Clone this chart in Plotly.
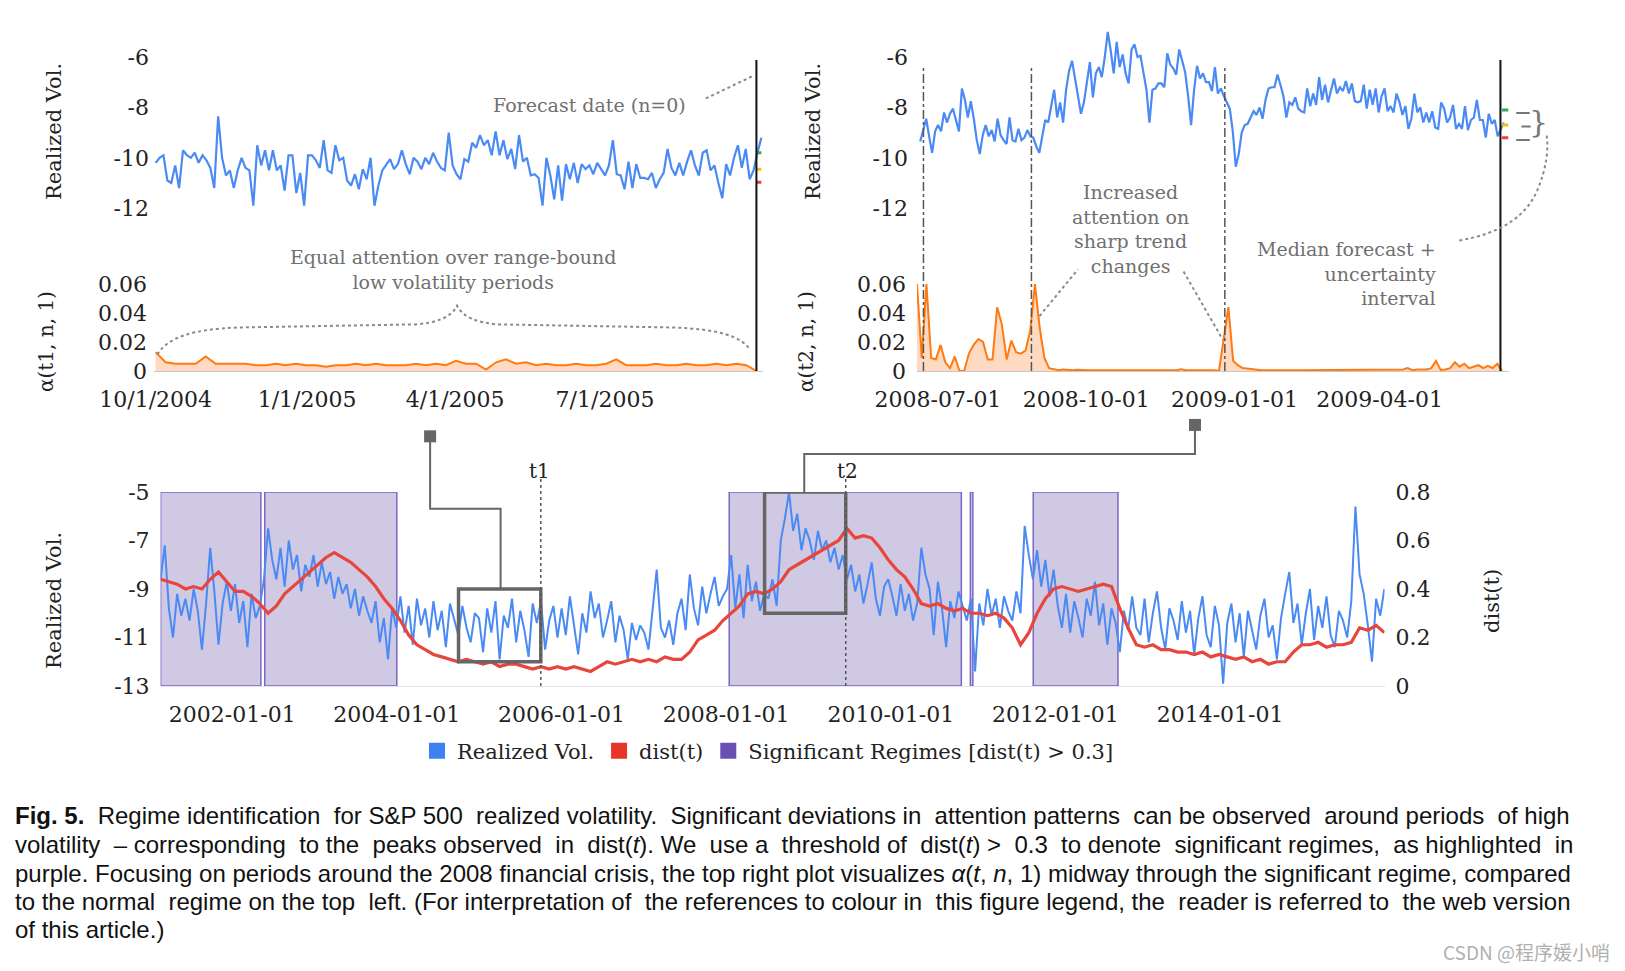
import pandas as pd
import plotly.graph_objects as go

W, H = 1625, 971
OFF = 8  # page body margin compensation
BLUE = "#4a8af4"
RED = "#e8453c"
ORANGE = "#ff7a10"
ORANGE_FILL = "rgba(255,150,80,0.35)"
PURPLE_FILL = "#d0c9e4"
PURPLE_EDGE = "#7a66c8"
GRAYTXT = "#707070"
SERIF = "DejaVu Serif"
SANS = "Liberation Sans"


def fx(p):
    return (p - OFF) / W


def fy(p):
    return 1 - (p - OFF) / H


# ---------------- data: top-left panel (normal regime, t1) ----------------
tl_start, tl_end = "2004-10-01", "2005-10-04"
tl_forecast = "2005-10-01"
tl_vol = [-10.2, -10.0, -9.9, -10.9, -11.0, -10.3, -11.2, -9.7, -9.9, -10.0, -9.8, -10.2, -9.9, -10.1, -10.4,
          -11.2, -8.35, -10.0, -10.7, -10.5, -11.2, -10.5, -10.0, -10.4, -10.5, -11.9, -9.5, -10.3, -9.7, -10.5,
          -9.7, -10.5, -10.3, -11.3, -9.9, -9.9, -11.4, -10.6, -11.9, -9.9, -9.9, -10.1, -10.4, -9.3, -10.5,
          -10.6, -9.5, -10.1, -10.0, -10.9, -11.1, -10.65, -11.25, -10.45, -10.85, -10.0, -11.9, -11.1, -10.5,
          -10.25, -10.05, -10.45, -10.25, -9.7, -10.25, -10.65, -10.0, -10.15, -10.45, -10.0, -10.25, -9.8,
          -10.15, -10.4, -10.5, -9.0, -10.3, -10.65, -10.85, -10.05, -10.15, -9.4, -9.6, -9.1, -9.5, -9.3, -9.9,
          -8.95, -9.9, -9.3, -10.05, -9.65, -10.45, -9.1, -10.15, -10.0, -10.7, -10.65, -10.8, -11.9, -10.0,
          -10.7, -11.65, -10.3, -11.7, -10.25, -10.85, -10.2, -11.0, -10.25, -10.45, -10.3, -10.65, -10.2,
          -10.45, -10.7, -10.3, -9.3, -10.65, -10.7, -11.25, -10.15, -11.2, -10.25, -10.8, -10.8, -10.85, -10.6,
          -11.2, -10.85, -10.6, -9.65, -10.4, -10.7, -10.2, -10.7, -10.15, -9.7, -10.3, -10.7, -9.8, -9.7, -10.5,
          -10.3, -11.0, -11.6, -10.25, -10.7, -10.0, -9.5, -10.4, -9.65, -10.85, -10.5, -9.8, -9.2]
alpha1 = [0.013, 0.006, 0.005, 0.005, 0.005, 0.010, 0.005, 0.005, 0.005, 0.005, 0.004, 0.004, 0.005, 0.004,
          0.005, 0.004, 0.004, 0.003, 0.004, 0.004, 0.005, 0.004, 0.005, 0.004, 0.004, 0.004, 0.005, 0.004,
          0.005, 0.004, 0.007, 0.005, 0.005, 0.001, 0.006, 0.008, 0.005, 0.006, 0.004, 0.005, 0.004, 0.004,
          0.005, 0.004, 0.004, 0.005, 0.008, 0.004, 0.004, 0.004, 0.005, 0.004, 0.004, 0.005, 0.004, 0.004,
          0.005, 0.004, 0.005, 0.004, 0.000]
q_tl = [-9.8, -10.45, -10.97]

# ---------------- data: top-right panel (crisis regime, t2) ----------------
tr_start, tr_end = "2008-06-20", "2009-06-17"
tr_forecast = "2009-06-15"
tr_marks = ["2008-06-22", "2008-08-28", "2008-12-26"]
tr_vol = [-9.35, -8.95, -8.45, -9.15, -9.8, -8.95, -8.7, -8.95, -8.2, -8.6, -8.25, -8.05, -8.5, -8.95, -7.25,
          -7.7, -8.4, -7.75, -8.45, -9.3, -9.85, -9.1, -8.7, -9.15, -8.9, -9.35, -8.45, -9.1, -9.3, -9.45, -8.4,
          -9.3, -9.35, -8.85, -9.3, -9.2, -8.9, -9.15, -9.2, -9.55, -9.8, -9.15, -8.5, -8.6, -7.95, -7.3, -8.4,
          -7.8, -8.6, -7.3, -6.55, -6.15, -6.85, -7.55, -8.25, -7.8, -7.05, -6.2, -7.6, -6.65, -6.4, -6.8, -6.0,
          -5.0, -5.75, -6.65, -5.4, -6.4, -5.9, -6.65, -7.05, -5.7, -5.5, -6.0, -5.95, -6.55, -7.3, -8.6, -7.3,
          -7.25, -7.05, -7.05, -7.2, -5.85, -6.3, -6.45, -6.7, -5.7, -6.15, -6.6, -7.55, -8.7, -7.3, -6.35,
          -6.85, -6.65, -7.0, -7.0, -7.35, -6.4, -7.45, -7.25, -7.55, -7.8, -8.05, -8.95, -10.35, -9.85, -9.0,
          -8.7, -8.65, -8.4, -8.15, -8.3, -8.0, -8.45, -7.7, -7.25, -7.2, -7.2, -6.7, -7.1, -7.55, -8.4, -7.8,
          -7.9, -7.6, -8.05, -8.15, -8.2, -7.25, -7.95, -7.45, -7.9, -6.8, -7.7, -7.1, -7.8, -7.3, -6.85, -7.45,
          -7.2, -7.35, -6.95, -7.45, -7.05, -7.75, -7.8, -7.75, -7.1, -8.05, -7.3, -7.9, -7.25, -8.2, -7.55,
          -7.25, -8.15, -7.95, -8.2, -7.45, -7.8, -8.3, -7.95, -8.85, -8.45, -7.45, -8.2, -8.0, -8.6, -8.2, -8.6,
          -8.15, -8.8, -8.85, -7.8, -8.05, -8.6, -8.4, -7.9, -8.85, -8.65, -8.85, -7.95, -8.9, -8.5, -8.4, -7.7,
          -8.5, -8.5, -9.2, -8.25, -8.65, -8.5, -9.15, -8.85, -8.6]
alpha2_start, alpha2_end = "2008-06-18", "2009-06-16"
alpha2 = [0.060, 0.009, 0.060, 0.009, 0.008, 0.018, 0.006, 0.002, 0.010, 0.000, 0.000, 0.012, 0.018, 0.022,
          0.020, 0.008, 0.008, 0.044, 0.032, 0.008, 0.021, 0.013, 0.012, 0.014, 0.028, 0.060, 0.030, 0.009,
          0.002, 0.001,
          0.0005, 0.001, 0.0005, 0.0005, 0.0008, 0.0005, 0.0005, 0.0006, 0.0005, 0.0005, 0.0007, 0.0005,
          0.0005, 0.0005, 0.0006, 0.0005, 0.0005, 0.0005, 0.0005, 0.0006, 0.0005, 0.0005, 0.0005, 0.0005,
          0.0006, 0.0005, 0.0012,
          0.0005, 0.0005, 0.0006, 0.0005, 0.0005, 0.0005, 0.0005,
          0.000, 0.023, 0.044, 0.007, 0.004, 0.002, 0.0015, 0.001,
          0.0005, 0.0005, 0.0006, 0.0005, 0.0005, 0.0005, 0.0007, 0.0005, 0.0005, 0.0005, 0.0005, 0.0006,
          0.0005, 0.0005, 0.0005, 0.0005, 0.0005, 0.0006, 0.0005, 0.0005, 0.0005, 0.0005, 0.0005, 0.0005,
          0.0006, 0.0005, 0.0005, 0.0005, 0.0005, 0.0005, 0.0005,
          0.001, 0.002, 0.0005, 0.001, 0.0008, 0.001, 0.002, 0.007, 0.0008, 0.001, 0.002, 0.006, 0.003, 0.005,
          0.002, 0.003, 0.004, 0.002, 0.0035, 0.002, 0.005, 0.000]
q_tr = [-8.1, -8.7, -9.2]

# ---------------- data: bottom panel (full history) ----------------
b_start, b_end = "2001-02-17", "2015-12-31"
vol_2001 = [-8.6, -7.2, -9.8, -11.0, -9.2, -10.1, -9.4, -10.3, -9.0, -9.9, -11.5, -9.6, -7.3, -9.1, -11.3, -9.6, -8.7]
vol_2002 = [-9.9, -8.8, -10.4, -9.5, -11.4, -9.2, -10.2, -9.7, -8.6, -6.5, -7.8, -8.6, -7.3, -8.9, -7.0, -8.2, -7.6, -9.1, -8.0, -8.5]
vol_2003 = [-7.6, -8.9, -7.9, -8.8, -8.3, -9.4, -8.5, -9.2, -8.8, -9.8, -9.0, -10.1, -9.3, -9.9, -10.4, -9.5, -11.2, -10.2, -11.9, -9.8]
vol_2004 = [-10.6, -9.3, -10.8, -9.7, -11.3, -9.4, -10.5, -9.8, -11.0, -9.5, -10.7, -9.9, -11.4, -9.6, -10.3, -10.9, -9.7, -10.6, -11.2, -10.0]
vol_2005 = [-10.2, -11.6, -9.8, -10.8, -9.5, -11.9, -10.1, -10.6, -9.4, -11.2, -9.9, -10.7, -11.8, -9.6, -10.4, -9.5, -11.5, -10.3, -9.7, -11.0]
vol_2006 = [-9.8, -10.9, -9.3, -10.6, -11.7, -10.0, -10.8, -9.1, -10.2, -9.6, -11.0, -10.3, -9.5, -11.2, -10.1, -10.7, -11.9, -10.4, -11.1, -10.5]
vol_2007 = [-10.8, -11.5, -9.9, -8.2, -10.6, -11.0, -10.3, -11.3, -10.0, -9.4, -10.7, -8.4, -9.8, -10.5, -8.9, -10.0, -9.2, -8.5, -9.7, -9.3]
vol_2008 = [-9.0, -7.6, -9.8, -8.4, -10.2, -8.0, -9.5, -8.7, -9.9, -9.2, -9.4, -8.6, -9.7, -7.0, -6.1, -5.0, -6.6, -5.9, -7.4, -6.5]
vol_2009 = [-7.0, -7.8, -6.6, -7.4, -7.0, -7.9, -7.3, -8.2, -7.6, -8.6, -8.0, -9.1, -8.4, -9.6, -8.8, -7.9, -9.4, -10.1, -8.9, -8.6]
vol_2010 = [-9.3, -10.1, -8.8, -9.9, -9.2, -10.3, -9.6, -7.3, -8.4, -9.0, -10.9, -8.7, -9.8, -11.4, -9.5, -10.2, -9.1, -9.7, -10.3, -9.4]
vol_2011 = [-12.4, -9.6, -10.5, -9.0, -10.1, -9.4, -10.6, -9.3, -9.9, -10.3, -9.1, -10.0, -6.4, -7.6, -8.6, -7.4, -8.9, -7.8, -9.3, -8.2]
vol_2012 = [-9.7, -10.6, -9.2, -10.8, -9.5, -10.2, -11.0, -9.4, -10.1, -8.7, -10.5, -9.6, -11.3, -9.8, -10.4, -11.6, -9.9, -10.7, -9.3, -10.6]
vol_2013 = [-10.9, -9.4, -11.2, -10.0, -9.1, -10.6, -11.5, -9.8, -10.3, -11.1, -9.5, -10.8, -9.9, -11.7, -10.2, -9.3, -10.9, -11.4, -9.7, -10.5]
vol_2014 = [-12.9, -10.4, -9.6, -11.2, -10.0, -11.8, -9.9, -10.7, -11.5, -10.1, -9.4, -11.0, -10.5, -11.9, -10.2, -9.2, -8.3, -10.4, -9.6, -11.3]
vol_2015 = [-10.0, -9.0, -11.1, -9.7, -10.6, -9.3, -10.9, -11.4, -9.9, -10.3, -11.0, -9.5, -5.6, -8.4, -9.2, -10.5, -12.0, -9.4, -10.1, -9.0]

dist_2001 = [0.44, 0.43, 0.42, 0.40, 0.41, 0.40, 0.44, 0.47, 0.43]
dist_2002 = [0.39, 0.39, 0.37, 0.34, 0.30, 0.33, 0.38, 0.41, 0.44, 0.47]
dist_2003 = [0.50, 0.53, 0.55, 0.53, 0.51, 0.48, 0.45, 0.41, 0.36, 0.32]
dist_2004 = [0.27, 0.21, 0.17, 0.15, 0.13, 0.12, 0.11, 0.10, 0.11, 0.10]
dist_2005 = [0.09, 0.10, 0.08, 0.09, 0.09, 0.08, 0.07, 0.08, 0.07, 0.08]
dist_2006 = [0.07, 0.08, 0.07, 0.06, 0.08, 0.10, 0.09, 0.10, 0.11, 0.10]
dist_2007 = [0.11, 0.10, 0.12, 0.11, 0.11, 0.14, 0.19, 0.21, 0.23, 0.27]
dist_2008 = [0.30, 0.33, 0.38, 0.39, 0.38, 0.40, 0.43, 0.48, 0.50, 0.52]
dist_2009 = [0.54, 0.56, 0.58, 0.60, 0.65, 0.61, 0.62, 0.61, 0.57, 0.52]
dist_2010 = [0.48, 0.45, 0.40, 0.34, 0.33, 0.34, 0.32, 0.31, 0.32, 0.30]
dist_2011 = [0.30, 0.29, 0.30, 0.28, 0.24, 0.17, 0.22, 0.30, 0.36, 0.40]
dist_2012 = [0.41, 0.40, 0.39, 0.40, 0.41, 0.42, 0.41, 0.32, 0.24, 0.17]
dist_2013 = [0.16, 0.17, 0.15, 0.15, 0.14, 0.14, 0.13, 0.14, 0.12, 0.13]
dist_2014 = [0.12, 0.11, 0.12, 0.10, 0.11, 0.09, 0.10, 0.10, 0.14, 0.17]
dist_2015 = [0.17, 0.18, 0.16, 0.17, 0.17, 0.18, 0.24, 0.23, 0.25, 0.22]

regime_starts = ["2001-02-17", "2002-05-25", "2008-01-15", "2010-12-20", "2011-09-25"]
regime_ends = ["2002-05-08", "2004-01-01", "2010-11-10", "2010-12-31", "2012-10-05"]
t1_date, t2_date = "2005-10-01", "2009-06-15"
box1 = dict(x0="2004-10-01", x1="2005-10-01", y0=-12.0, y1=-9.0)
box2 = dict(x0="2008-06-20", x1="2009-06-15", y0=-10.0, y1=-5.0)

tl_ticks = ["2004-10-01", "2005-01-01", "2005-04-01", "2005-07-01"]
tl_ticktext = ["10/1/2004", "1/1/2005", "4/1/2005", "7/1/2005"]
tr_ticks = ["2008-07-01", "2008-10-01", "2009-01-01", "2009-04-01"]
b_ticks = ["2002-01-01", "2004-01-01", "2006-01-01", "2008-01-01", "2010-01-01", "2012-01-01", "2014-01-01"]

vol_all = (vol_2001 + vol_2002 + vol_2003 + vol_2004 + vol_2005 + vol_2006 + vol_2007 + vol_2008 +
           vol_2009 + vol_2010 + vol_2011 + vol_2012 + vol_2013 + vol_2014 + vol_2015)
dist_all = (dist_2001 + dist_2002 + dist_2003 + dist_2004 + dist_2005 + dist_2006 + dist_2007 + dist_2008 +
            dist_2009 + dist_2010 + dist_2011 + dist_2012 + dist_2013 + dist_2014 + dist_2015)

tl_x = pd.date_range(tl_start, tl_end, periods=len(tl_vol))
a1_x = pd.date_range("2004-10-01", tl_forecast, periods=len(alpha1))
tr_x = pd.date_range(tr_start, tr_end, periods=len(tr_vol))
a2_x = pd.date_range(alpha2_start, alpha2_end, periods=len(alpha2))
b_x = pd.date_range(b_start, b_end, periods=len(vol_all))
d_x = pd.date_range(b_start, b_end, periods=len(dist_all))

QCOL = ["#34a853", "#fbbc05", "#ea4335"]

fig = go.Figure()

# top-left
fig.add_trace(go.Scatter(x=tl_x, y=tl_vol, mode="lines", line=dict(color=BLUE, width=2.2),
                         xaxis="x", yaxis="y", showlegend=False))
for q, c in zip(q_tl, QCOL):
    fd = pd.Timestamp(tl_forecast)
    fig.add_trace(go.Scatter(x=[fd, fd + pd.Timedelta(days=3)], y=[q, q], mode="lines",
                             line=dict(color=c, width=3), xaxis="x", yaxis="y", showlegend=False))
fig.add_trace(go.Scatter(x=a1_x, y=alpha1, mode="lines", fill="tozeroy", fillcolor=ORANGE_FILL,
                         line=dict(color=ORANGE, width=2), xaxis="x2", yaxis="y2", showlegend=False))
# top-right
fig.add_trace(go.Scatter(x=tr_x, y=tr_vol, mode="lines", line=dict(color=BLUE, width=2.2),
                         xaxis="x3", yaxis="y3", showlegend=False))
for q, c in zip(q_tr, QCOL):
    fd = pd.Timestamp(tr_forecast)
    fig.add_trace(go.Scatter(x=[fd + pd.Timedelta(days=1), fd + pd.Timedelta(days=5)], y=[q, q], mode="lines",
                             line=dict(color=c, width=3), xaxis="x3", yaxis="y3", showlegend=False))
fig.add_trace(go.Scatter(x=a2_x, y=alpha2, mode="lines", fill="tozeroy", fillcolor=ORANGE_FILL,
                         line=dict(color=ORANGE, width=2), xaxis="x4", yaxis="y4", showlegend=False))
# bottom
fig.add_trace(go.Scatter(x=b_x, y=vol_all, mode="lines", line=dict(color=BLUE, width=2.0),
                         xaxis="x5", yaxis="y5", showlegend=False))
fig.add_trace(go.Scatter(x=d_x, y=dist_all, mode="lines", line=dict(color=RED, width=3.2),
                         xaxis="x5", yaxis="y6", showlegend=False))
# legend entries
for name, col in [("Realized Vol.", "#3b82f0"), ("dist(t)", "#e8352b"),
                  ("Significant Regimes [dist(t) &gt; 0.3]", "#6a4fb3")]:
    fig.add_trace(go.Scatter(x=[None], y=[None], mode="markers", name=name,
                             marker=dict(symbol="square", size=17, color=col),
                             xaxis="x5", yaxis="y5", showlegend=True))

tickfont = dict(family=SERIF, size=22, color="#222")
common = dict(showgrid=False, zeroline=False, tickfont=tickfont, ticks="", automargin=False)

layout = dict(
    width=W, height=H, margin=dict(l=0, r=0, t=0, b=0, pad=0, autoexpand=False),
    paper_bgcolor="white", plot_bgcolor="rgba(0,0,0,0)",
    xaxis=dict(domain=[fx(154), fx(763)], range=["2004-09-30", "2005-10-05"], type="date",
               showticklabels=False, anchor="y", **common),
    yaxis=dict(domain=[fy(220.8), fy(29.3)], range=[-12.5, -4.9], tickvals=[-6, -8, -10, -12],
               ticktext=["-6", "-8", "-10", "-12"], anchor="x", ticklabelstandoff=4, **common),
    xaxis2=dict(domain=[fx(154), fx(763)], range=["2004-09-30", "2005-10-05"], type="date",
                tickvals=tl_ticks, ticktext=tl_ticktext, anchor="y2", ticklabelstandoff=9,
                showline=True, linecolor="#c8c8c8", linewidth=1, **common),
    yaxis2=dict(domain=[fy(371), fy(281.1)], range=[0, 0.062], tickvals=[0, 0.02, 0.04, 0.06],
                ticktext=["0", "0.02", "0.04", "0.06"], anchor="x2", ticklabelstandoff=6, **common),
    xaxis3=dict(domain=[fx(917), fx(1508.5)], range=["2008-06-18", "2009-06-20"], type="date",
                showticklabels=False, anchor="y3", **common),
    yaxis3=dict(domain=[fy(220.8), fy(29.3)], range=[-12.5, -4.9], tickvals=[-6, -8, -10, -12],
                ticktext=["-6", "-8", "-10", "-12"], anchor="x3", ticklabelstandoff=8, **common),
    xaxis4=dict(domain=[fx(917), fx(1508.5)], range=["2008-06-18", "2009-06-20"], type="date",
                tickvals=tr_ticks, ticktext=tr_ticks, anchor="y4", ticklabelstandoff=9,
                showline=True, linecolor="#c8c8c8", linewidth=1, **common),
    yaxis4=dict(domain=[fy(371), fy(281.1)], range=[0, 0.062], tickvals=[0, 0.02, 0.04, 0.06],
                ticktext=["0", "0.02", "0.04", "0.06"], anchor="x4", ticklabelstandoff=10, **common),
    xaxis5=dict(domain=[fx(160.6), fx(1384.6)], range=[b_start, "2016-01-01"], type="date",
                tickvals=b_ticks, ticktext=b_ticks, anchor="y5", ticklabelstandoff=9,
                showline=True, linecolor="#e4e4f0", linewidth=1, **common),
    yaxis5=dict(domain=[fy(686), fy(492)], range=[-13, -5], tickvals=[-5, -7, -9, -11, -13],
                ticktext=["-5", "-7", "-9", "-11", "-13"], anchor="x5", ticklabelstandoff=10, **common),
    yaxis6=dict(overlaying="y5", side="right", range=[0, 0.8], tickvals=[0, 0.2, 0.4, 0.6, 0.8],
                ticktext=["0", "0.2", "0.4", "0.6", "0.8"], anchor="x5", ticklabelstandoff=10, **common),
    legend=dict(orientation="h", x=fx(768), xanchor="center", y=fy(751), yanchor="middle",
                font=dict(family=SERIF, size=21, color="#222"), bgcolor="rgba(0,0,0,0)",
                itemclick=False, itemdoubleclick=False, tracegroupgap=0),
)
fig.update_layout(**layout)

shapes = []
# purple regimes
for s, e in zip(regime_starts, regime_ends):
    shapes.append(dict(type="rect", xref="x5", yref="y5", x0=s, x1=e, y0=-13, y1=-5,
                       fillcolor=PURPLE_FILL, line=dict(color=PURPLE_EDGE, width=1.5), layer="below"))
# zoom boxes
for b in (box1, box2):
    shapes.append(dict(type="rect", xref="x5", yref="y5", layer="above",
                       line=dict(color="#666666", width=3.5), fillcolor="rgba(0,0,0,0)", **b))
# t1 / t2 dotted lines
for d in (t1_date, t2_date):
    shapes.append(dict(type="line", xref="x5", yref="paper", x0=d, x1=d, y0=fy(686), y1=fy(479),
                       line=dict(color="#555", width=1.5, dash="dot")))
# forecast black lines
shapes.append(dict(type="line", xref="x", yref="paper", x0=tl_forecast, x1=tl_forecast,
                   y0=fy(371), y1=fy(60), line=dict(color="#111", width=2)))
shapes.append(dict(type="line", xref="x3", yref="paper", x0=tr_forecast, x1=tr_forecast,
                   y0=fy(371), y1=fy(60), line=dict(color="#111", width=2)))
# dash-dot markers top right
for d in tr_marks:
    shapes.append(dict(type="line", xref="x3", yref="paper", x0=d, x1=d, y0=fy(371), y1=fy(66),
                       line=dict(color="#555", width=1.5, dash="dashdot")))


def ppath(cmds):
    out = []
    for c in cmds:
        if isinstance(c, str):
            out.append(c)
        else:
            out.append(f"{fx(c[0] * 1.0364):.5f},{fy(c[1] * 1.0364):.5f}")
    return " ".join(out)


def dotted(cmds, color="#8a8a8a", width=2):
    shapes.append(dict(type="path", xref="paper", yref="paper", path=ppath(cmds),
                       line=dict(color=color, width=width, dash="dot")))


# connectors (shrunk-image pixel coords scaled)
shapes.append(dict(type="path", xref="paper", yref="paper",
                   path=ppath(["M", (483, 568), "L", (483, 491), "L", (415, 491), "L", (415, 421)]),
                   line=dict(color="#666", width=2)))
shapes.append(dict(type="path", xref="paper", yref="paper",
                   path=ppath(["M", (776, 476), "L", (776, 438), "L", (1153, 438), "L", (1153, 410)]),
                   line=dict(color="#666", width=2)))
for cx, cy in [(415, 421), (1153, 410)]:
    shapes.append(dict(type="rect", xref="paper", yref="paper",
                       x0=fx(cx * 1.0364 - 6), x1=fx(cx * 1.0364 + 6),
                       y0=fy(cy * 1.0364 + 6), y1=fy(cy * 1.0364 - 6),
                       fillcolor="#666", line=dict(width=0)))
# gray dotted callouts
dotted(["M", (681, 95), "L", (727, 73)])
dotted(["M", (152, 342), "Q", (165, 318), (230, 316), "L", (400, 313), "Q", (433, 311), (441, 295),
        "Q", (449, 311), (482, 313), "L", (650, 316), "Q", (713, 318), (724, 338)])
dotted(["M", (1003, 305), "L", (1040, 260)])
dotted(["M", (1142, 262), "L", (1180, 328)])
dotted(["M", (1408, 232), "Q", (1468, 222), (1484, 182), "Q", (1496, 152), (1492, 128)])
# bracket near median forecast
shapes.append(dict(type="path", xref="paper", yref="paper",
                   path=ppath(["M", (1463, 109), "L", (1476, 109), "M", (1468, 122), "L", (1477, 122),
                               "M", (1463, 135), "L", (1476, 135)]),
                   line=dict(color="#777", width=2)))
fig.update_layout(shapes=shapes)

ann = []


def text(x, y, s, size=19, color="#222", family=SERIF, angle=0, xanchor="center", align="center",
         yanchor="middle"):
    ann.append(dict(x=fx(x), y=fy(y), xref="paper", yref="paper", text=s, showarrow=False,
                    textangle=angle, xanchor=xanchor, yanchor=yanchor, align=align,
                    font=dict(family=family, size=size, color=color)))


# axis titles
text(54, 132, "Realized Vol.", size=21, angle=-90)
text(46, 342, "α(t1, n, 1)", size=20, angle=-90)
text(813, 132, "Realized Vol.", size=21, angle=-90)
text(806, 342, "α(t2, n, 1)", size=20, angle=-90)
text(54, 601, "Realized Vol.", size=21, angle=-90)
text(1492, 601, "dist(t)", size=21, angle=-90)
text(539, 471, "t1", size=20)
text(847, 471, "t2", size=20)
# gray callout texts
text(589, 105, "Forecast date (n=0)", size=19, color=GRAYTXT)
text(453, 269, "Equal attention over range-bound<br>low volatility periods", size=19, color=GRAYTXT)
text(1130, 229, "Increased<br>attention on<br>sharp trend<br>changes", size=19, color=GRAYTXT)
text(1438, 273, "Median forecast +<br>uncertainty<br>interval", size=19, color=GRAYTXT,
     xanchor="right", align="right")
text(1538, 122, "}", size=30, color="#777")

caption = [
    "<b>Fig. 5.</b> Regime identification for S&amp;P 500 realized volatility. Significant deviations in attention patterns can be observed around periods of high",
    "volatility – corresponding to the peaks observed in dist(<i>t</i>). We use a threshold of dist(<i>t</i>) &gt; 0.3 to denote significant regimes, as highlighted in",
    "purple. Focusing on periods around the 2008 financial crisis, the top right plot visualizes <i>α</i>(<i>t</i>, <i>n</i>, 1) midway through the significant regime, compared",
    "to the normal regime on the top left. (For interpretation of the references to colour in this figure legend, the reader is referred to the web version",
    "of this article.)",
]
cap_extra = [8, 13, 0, 6, 0]   # extra non-breaking spaces to imitate justified text


def justify(line, extra):
    words = line.split(" ")
    gaps = len(words) - 1
    if extra <= 0 or gaps <= 0:
        return line
    out = words[0]
    for i in range(1, len(words)):
        add = round(extra * i / gaps) - round(extra * (i - 1) / gaps)
        out += " " + "\u00a0" * add + words[i]
    return out


cap_y = [815.6, 844.7, 873.7, 901.7, 929.7]
for line, yy, ex in zip(caption, cap_y, cap_extra):
    text(13, yy, justify(line, ex), size=24, color="#111", family=SANS, xanchor="left", align="left")

text(1612, 951, "CSDN @程序媛小哨", size=19, color="#b0b0b0", family="Noto Sans CJK SC", xanchor="right")

fig.update_layout(annotations=ann)
fig.write_html("out.html")
